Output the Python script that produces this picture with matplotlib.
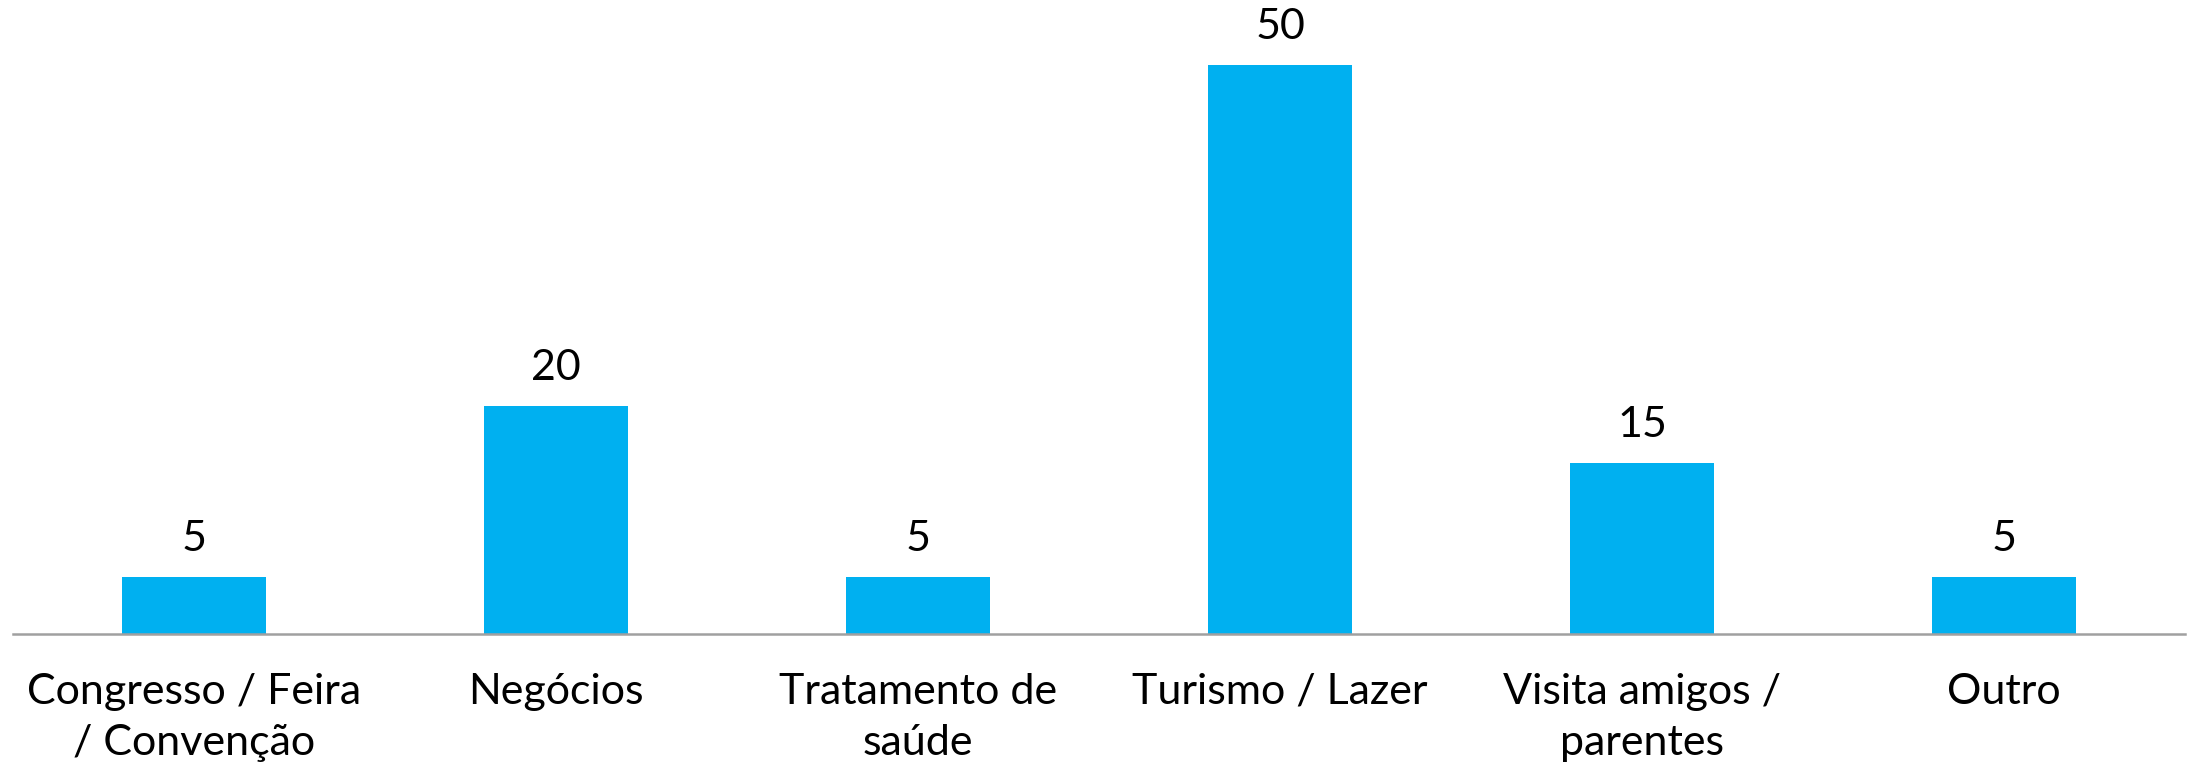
import matplotlib
matplotlib.use("Agg")
import matplotlib.pyplot as plt

categories = ["Congresso / Feira\n/ Convenção", "Negócios", "Tratamento de\nsaúde",
              "Turismo / Lazer", "Visita amigos /\nparentes", "Outro"]
values = [5, 20, 5, 50, 15, 5]

plt.rcParams['font.family'] = ['Lato', 'DejaVu Sans']

fig = plt.figure(figsize=(21.91, 7.66), dpi=100)
ax = fig.add_axes([13/2191, 1-634/766, (2185-13)/2191, (634-65)/766])
x = range(len(categories))
bars = ax.bar(x, values, width=0.4, color='#00B0F0', zorder=2)
ax.set_xlim(-0.5, len(categories)-0.5)
ax.set_ylim(0, 50)
for xi, v in zip(x, values):
    ax.annotate(str(v), (xi, v), xytext=(0, 14), textcoords='offset points',
                ha='center', va='bottom', fontsize=31, color='#000000')
ax.set_xticks(list(x))
ax.set_xticklabels(categories, fontsize=31, linespacing=1.42)
ax.tick_params(axis='x', length=0, pad=28)
ax.set_yticks([])
for s in ['top', 'right', 'left']:
    ax.spines[s].set_visible(False)
ax.spines['bottom'].set_color('#A0A0A0')
ax.spines['bottom'].set_linewidth(1.8)
fig.savefig('out.png', dpi=100)
